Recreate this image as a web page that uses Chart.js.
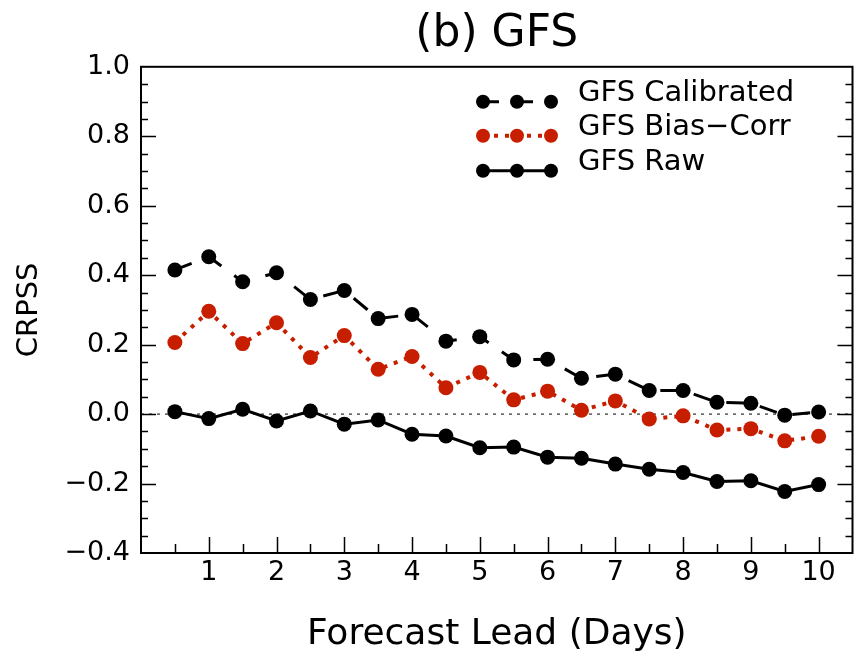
<!DOCTYPE html>
<html>
<head>
<meta charset="utf-8">
<script src="https://cdn.jsdelivr.net/npm/chart.js@4.4.0/dist/chart.umd.min.js"></script>
<style>
  body { margin: 0; background: #fff; }
  #wrap { width: 860px; height: 659px; }
</style>
</head>
<body>
<div id="wrap"><canvas id="crpss" width="860" height="659"></canvas></div>
<script>
// lead time (days) and CRPSS values
const leadDays = [0.5, 1, 1.5, 2, 2.5, 3, 3.5, 4, 4.5, 5, 5.5, 6, 6.5, 7, 7.5, 8, 8.5, 9, 9.5, 10];
const calibrated = [0.415, 0.453, 0.381, 0.407, 0.330, 0.356, 0.275, 0.287, 0.210, 0.223,
                    0.156, 0.158, 0.103, 0.115, 0.068, 0.068, 0.034, 0.031, -0.003, 0.006];
const biasCorr = [0.206, 0.296, 0.203, 0.263, 0.163, 0.226, 0.129, 0.166, 0.076, 0.120,
                  0.041, 0.066, 0.011, 0.038, -0.014, -0.005, -0.046, -0.042, -0.077, -0.064];
const raw = [0.007, -0.013, 0.014, -0.020, 0.009, -0.029, -0.017, -0.058, -0.063, -0.097,
             -0.095, -0.124, -0.127, -0.144, -0.159, -0.168, -0.194, -0.192, -0.223, -0.203];

const xTickValues = [1, 2, 3, 4, 5, 6, 7, 8, 9, 10];
const yTickValues = [-0.4, -0.2, 0.0, 0.2, 0.4, 0.6, 0.8, 1.0];
const seriesNames = ['GFS Calibrated', 'GFS Bias\u2212Corr', 'GFS Raw'];

const RED = '#c81e00';
const FONT = "'DejaVu Sans', sans-serif";

function toPoints(arr) {
	return leadDays.map((d, i) => ({ x: d, y: arr[i] }));
}

// box, inward ticks, dotted zero line
const framePlugin = {
	id: 'frame',
	beforeDatasetsDraw(chart) {
		const { ctx, chartArea: a, scales: { x, y } } = chart;
		ctx.save();
		// zero line
		ctx.strokeStyle = '#000';
		ctx.lineWidth = 1;
		ctx.setLineDash([3, 5]);
		ctx.beginPath();
		ctx.moveTo(a.left, y.getPixelForValue(0));
		ctx.lineTo(a.right, y.getPixelForValue(0));
		ctx.stroke();
		ctx.setLineDash([]);
		// box
		ctx.lineWidth = 2;
		ctx.strokeRect(a.left, a.top, a.right - a.left, a.bottom - a.top);
		// x ticks (bottom only)
		ctx.lineWidth = 1.5;
		ctx.beginPath();
		for (let v = 0.5; v <= 10; v += 0.5) {
			const px = Math.round(x.getPixelForValue(v)) + 0.5;
			const len = Number.isInteger(v) ? 16 : 9;
			ctx.moveTo(px, a.bottom);
			ctx.lineTo(px, a.bottom - len);
		}
		// y ticks left and right
		for (let k = 1; k < 28; k++) {
			const v = -0.4 + k * 0.05;
			const py = Math.round(y.getPixelForValue(v)) + 0.5;
			const len = (k % 4 === 0) ? 15 : 7;
			ctx.moveTo(a.left, py);
			ctx.lineTo(a.left + len, py);
			ctx.moveTo(a.right, py);
			ctx.lineTo(a.right - len, py);
		}
		ctx.stroke();
		ctx.restore();
	}
};

// legend with three markers per sample, inside the top right
const legendPlugin = {
	id: 'threeDotLegend',
	afterDraw(chart) {
		const { ctx, chartArea: a } = chart;
		const x0 = a.left + 342;
		const rows = [35, 69, 104];
		ctx.save();
		chart.data.datasets.forEach((ds, i) => {
			const yy = a.top + rows[i];
			ctx.strokeStyle = ds.borderColor;
			ctx.lineWidth = ds.borderWidth;
			ctx.setLineDash(ds.legendDash);
			ctx.beginPath();
			ctx.moveTo(x0, yy);
			ctx.lineTo(x0 + 68, yy);
			ctx.stroke();
			ctx.setLineDash([]);
			ctx.fillStyle = ds.pointBackgroundColor;
			[0, 34, 68].forEach(dx => {
				ctx.beginPath();
				ctx.arc(x0 + dx, yy, 7, 0, Math.PI * 2);
				ctx.fill();
			});
			ctx.fillStyle = '#000';
			ctx.font = '29px ' + FONT;
			ctx.textBaseline = 'middle';
			ctx.textAlign = 'left';
			ctx.fillText(ds.label, a.left + 437, yy - 8);
		});
		ctx.restore();
	}
};

new Chart(document.getElementById('crpss'), {
	type: 'line',
	data: {
		datasets: [{
			label: seriesNames[0],
			data: toPoints(calibrated),
			borderColor: '#000',
			borderWidth: 3,
			borderDash: [18, 16],
			legendDash: [16, 18],
			pointRadius: 7.5,
			pointBackgroundColor: '#000',
			pointBorderWidth: 0
		}, {
			label: seriesNames[1],
			data: toPoints(biasCorr),
			borderColor: RED,
			borderWidth: 4,
			borderDash: [4, 7],
			legendDash: [4, 7],
			pointRadius: 7.5,
			pointBackgroundColor: RED,
			pointBorderWidth: 0
		}, {
			label: seriesNames[2],
			data: toPoints(raw),
			borderColor: '#000',
			borderWidth: 3,
			borderDash: [],
			legendDash: [],
			pointRadius: 7.5,
			pointBackgroundColor: '#000',
			pointBorderWidth: 0
		}]
	},
	options: {
		responsive: false,
		animation: false,
		layout: { padding: { left: 0, right: 2, top: 0, bottom: 0 } },
		scales: {
			x: {
				type: 'linear',
				min: 0,
				max: 10.5,
				afterBuildTicks: s => { s.ticks = xTickValues.map(v => ({ value: v })); },
				afterFit: s => { s.height = 106; },
				grid: { display: false, drawTicks: false },
				border: { display: false },
				ticks: {
					autoSkip: false,
					maxRotation: 0,
					padding: 4,
					color: '#000',
					font: { family: FONT, size: 27 },
					callback: v => String(v)
				},
				title: {
					display: true,
					text: 'Forecast Lead (Days)',
					color: '#000',
					font: { family: FONT, size: 36 },
					padding: { top: 0, bottom: 3 }
				}
			},
			y: {
				type: 'linear',
				min: -0.4,
				max: 1.0,
				afterBuildTicks: s => { s.ticks = yTickValues.map(v => ({ value: v })); },
				afterFit: s => { s.width = 141; },
				grid: { display: false, drawTicks: false },
				border: { display: false },
				ticks: {
					padding: 11,
					color: '#000',
					font: { family: FONT, size: 27 },
					callback: v => v.toFixed(1).replace('-', '\u2212')
				},
				title: {
					display: true,
					text: 'CRPSS',
					color: '#000',
					font: { family: FONT, size: 29 },
					padding: { top: 12, bottom: 0 }
				}
			}
		},
		plugins: {
			legend: { display: false },
			tooltip: { enabled: false },
			title: {
				display: true,
				fullSize: false,
				text: '(b) GFS',
				color: '#000',
				font: { family: FONT, size: 44, weight: 'normal' },
				padding: { top: 8, bottom: 6 }
			}
		}
	},
	plugins: [framePlugin, legendPlugin]
});
</script>
</body>
</html>
